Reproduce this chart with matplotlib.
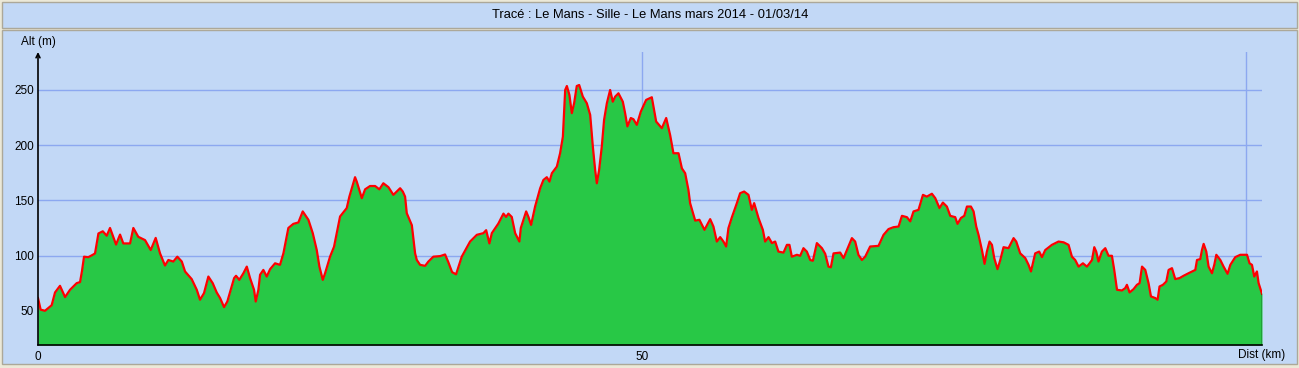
import matplotlib
matplotlib.use("Agg")
import matplotlib.pyplot as plt
from matplotlib.patches import Rectangle

title = "Tracé : Le Mans - Sille - Le Mans mars 2014 - 01/03/14"

# distance (km) / altitude (m)
dist = [0.0, 0.22, 0.58, 1.13, 1.41, 1.82, 2.24, 2.65, 3.20, 3.48, 3.64, 3.81, 4.16, 4.58, 4.72,
        5.0, 5.36, 5.69, 5.96, 6.46, 6.79, 7.06, 7.62, 7.89, 8.30, 8.86, 9.33, 9.74, 10.10, 10.51,
        10.79, 11.20, 11.53, 11.90, 12.17, 12.72, 13.14, 13.41, 13.74, 14.10, 14.46, 14.79, 15.07,
        15.40, 15.67, 15.89, 16.23, 16.39, 16.66, 17.00, 17.28, 17.55, 17.88, 18.02, 18.24, 18.38,
        18.65, 18.93, 19.21, 19.62, 20.03, 20.31, 20.72, 21.13, 21.55, 21.91, 22.38, 22.74, 23.07,
        23.29, 23.57, 23.76, 24.17, 24.50, 25.00, 25.55, 25.77, 26.24, 26.38, 26.80, 27.07, 27.48,
        27.90, 28.25, 28.58, 29.00, 29.41, 29.97, 30.19, 30.38, 30.52, 30.94, 31.21, 31.35, 31.62,
        32.04, 32.31, 32.72, 33.28, 33.69, 33.96, 34.27, 34.60, 35.07, 35.76, 36.32, 36.86, 37.09,
        37.36, 37.56, 38.10, 38.52, 38.74, 38.93, 39.21, 39.49, 39.84, 39.96, 40.40, 40.59, 40.81,
        41.14, 41.56, 41.83, 42.11, 42.33, 42.53, 42.94, 43.21, 43.44, 43.63, 43.77, 43.98, 44.18,
        44.37, 44.59, 44.79, 45.09, 45.42, 45.70, 45.92, 46.11, 46.25, 46.44, 46.66, 46.85, 47.08,
        47.35, 47.57, 47.77, 48.04, 48.40, 48.59, 48.78, 49.06, 49.28, 49.56, 49.89, 50.33, 50.80,
        51.16, 51.63, 51.99, 52.32, 52.59, 53.01, 53.29, 53.56, 53.83, 53.97, 54.25, 54.39, 54.74,
        55.16, 55.63, 55.90, 56.18, 56.46, 56.73, 56.95, 57.14, 57.43, 57.84, 58.11, 58.44, 58.80,
        59.08, 59.27, 59.63, 59.99, 60.18, 60.46, 60.74, 61.01, 61.28, 61.70, 61.98, 62.19, 62.39,
        62.81, 63.08, 63.35, 63.63, 63.91, 64.13, 64.46, 64.88, 65.15, 65.42, 65.62, 65.84, 66.39,
        66.67, 66.95, 67.36, 67.63, 67.90, 68.19, 68.46, 68.87, 69.56, 69.98, 70.39, 70.80, 71.22,
        71.50, 71.91, 72.19, 72.46, 72.87, 73.24, 73.56, 73.98, 74.26, 74.61, 74.89, 75.22, 75.50,
        75.91, 76.10, 76.38, 76.66, 76.88, 77.21, 77.43, 77.65, 77.84, 78.12, 78.34, 78.53, 78.75,
        78.95, 79.14, 79.41, 79.64, 79.91, 80.32, 80.74, 80.96, 81.29, 81.71, 81.98, 82.18, 82.53,
        82.86, 83.09, 83.36, 83.91, 84.46, 84.88, 85.29, 85.57, 85.84, 86.12, 86.48, 86.81, 87.03,
        87.23, 87.42, 87.58, 87.77, 88.05, 88.33, 88.60, 88.88, 89.07, 89.30, 89.71, 89.98, 90.12,
        90.34, 90.67, 90.95, 91.17, 91.37, 91.64, 91.91, 92.11, 92.47, 92.66, 92.82, 93.10, 93.38,
        93.57, 93.85, 94.12, 94.48, 94.81, 95.22, 95.78, 95.92, 96.19, 96.33, 96.47, 96.69, 96.88,
        97.16, 97.35, 97.52, 97.85, 98.12, 98.45, 98.68, 99.09, 99.50, 100.06, 100.27, 100.47,
        100.66, 100.88, 101.02, 101.30]
alt = [61.5, 51, 50, 55, 66.6, 72.6, 62.4, 69, 75, 76, 86, 99, 98.5, 101, 102,
       120, 122, 118, 125, 110, 119, 111, 111, 125, 117, 114, 105, 116, 102, 91,
       96, 94.6, 99, 94.6, 85.6, 78.7, 69, 60, 66, 81, 75, 66.6, 61.5,
       53.3, 58.4, 66.6, 79.6, 81.7, 78, 84, 90, 79.6, 69, 58.4, 69, 82.6,
       87, 81, 87.7, 93, 91.6, 102, 125, 128.7, 130, 140, 132.4, 120.3, 105,
       90, 78, 84, 99, 108, 135.4, 143, 153.4, 171, 167, 152, 160, 163,
       163, 160, 165.5, 162, 155, 161, 158, 153.4, 138.4, 127.5, 102, 96, 91.6,
       90.7, 94.6, 99, 99.5, 101, 94, 85, 83, 99, 112.7, 118.8, 120.3, 123,
       111, 120.3, 129, 138, 135, 138, 135, 120.3, 112.7, 125, 140, 135, 127.8,
       144.4, 161, 168.5, 171, 167, 174.6, 180.6, 192.7, 207.7, 250, 253.6, 245.5, 229,
       238, 253.6, 254.5, 244, 238, 227.4, 198.7, 177.6, 165.5, 177.6, 198.7, 222.9, 238,
       250, 239.4, 244, 247, 239.4, 229, 217, 224.6, 223.5, 218.4, 230.4, 241, 243.4,
       221.4, 215.4, 224.6, 209, 192.7, 192.7, 179, 174.6, 159.5, 147.5, 136.9, 131.7, 132.4,
       123.3, 133, 126.3, 112.7, 116.7, 112.7, 108.2, 124.8, 134.8, 147.5, 156.5, 158, 155,
       141.4, 147.5, 134, 123.3, 112.7, 116.7, 111.3, 112.7, 103.6, 102.7, 109.7, 109.7, 99,
       100.7, 99.8, 106.7, 103.6, 96, 95.3, 111.3, 106.7, 101.6, 90, 89.4, 102, 102.7,
       97.7, 105, 115.8, 112.7, 100.7, 96, 99, 108.2, 108.8, 118.8, 124, 125.7, 126.3,
       136, 134.8, 131, 140, 141.4, 155, 153.4, 156, 152, 143, 148, 144.4, 136,
       134.8, 128.7, 134, 136, 144.4, 144.4, 140, 126.3, 118.8, 105, 92.5, 103.6, 112.7,
       109.7, 97.7, 87.7, 96, 107.6, 106.7, 115.8, 112.7, 102, 97.7, 91.6, 85.6, 102,
       103.6, 98.6, 105, 109.7, 112.7, 112, 109.7, 99, 96, 90, 93, 90, 93,
       96, 107.6, 103.6, 94.6, 103.6, 106.7, 99.8, 99.8, 87, 69, 68.4, 70.5, 73.5,
       66.6, 69.6, 73.5, 75, 90, 87, 75, 63, 61.5, 60, 72, 73.5, 76.5,
       87, 88.6, 78.7, 79.6, 81.7, 84, 87, 96, 96.8, 105, 110.6, 103.6, 90,
       84, 91.6, 100.7, 96, 90, 83.5, 91.6, 98.6, 100.7, 100.7, 93, 91.6,
       81, 85.6, 75, 65.4]

alt_ticks = [50, 100, 150, 200, 250]
dist_ticks = [0, 50]
dist_grid = [50, 100]
y_min, y_max = 19, 284.4

W, H = 1299, 368
blue = "#C2D8F6"
beige = "#ECE9D8"
edge = "#ACA899"
grid_c = "#8CA8F0"

plt.rcParams["font.family"] = ["Liberation Sans", "DejaVu Sans"]
fig = plt.figure(figsize=(W / 100, H / 100), dpi=100, facecolor=beige)


def box(x0, y0, x1, y1, **kw):
    # rectangle in pixel coordinates (origin top-left)
    fig.add_artist(Rectangle((x0 / W, 1 - y1 / H), (x1 - x0) / W, (y1 - y0) / H,
                             transform=fig.transFigure, zorder=-5, **kw))


box(2, 2, 1297, 28, facecolor=blue, edgecolor=edge, lw=1)
box(2, 30, 1297, 364, facecolor=blue, edgecolor=edge, lw=1)
fig.text(650 / W, 1 - 15 / H, title, ha="center", va="center", fontsize=9.3)

ax = fig.add_axes([38 / W, 1 - 345 / H, (1262 - 38) / W, (345 - 52) / H])
ax.set_facecolor("none")
ax.set_xlim(0, dist[-1])
ax.set_ylim(y_min, y_max)

for v in alt_ticks:
    ax.axhline(v, color=grid_c, lw=1, zorder=1)
for v in dist_grid:
    ax.axvline(v, color=grid_c, lw=1, zorder=1)

ax.fill_between(dist, alt, y_min, color="#28C846", lw=0, zorder=2)
ax.plot(dist, alt, color="#FF0000", lw=1.6, zorder=3)
ax.plot([dist[-1], dist[-1]], [y_min, alt[-1]], color="black", lw=1, zorder=3)

for s in ["top", "right", "left"]:
    ax.spines[s].set_visible(False)
ax.spines["bottom"].set_linewidth(1.2)
ax.annotate("", xy=(0, 1.0), xytext=(0, 0), xycoords="axes fraction",
            arrowprops=dict(arrowstyle="->", lw=1.2, color="black",
                            mutation_scale=7, shrinkA=0, shrinkB=0),
            annotation_clip=False, zorder=5)

ax.set_yticks(alt_ticks)
ax.set_yticklabels([str(v) for v in alt_ticks], fontsize=8.5)
ax.set_xticks(dist_ticks)
ax.set_xticklabels([str(v) for v in dist_ticks], fontsize=8.5)
ax.tick_params(length=0, pad=3)
ax.tick_params(axis="x", pad=4)

ax.text(0, 1.0 + 10 / 293, "Alt (m)", transform=ax.transAxes, ha="center",
        va="center", fontsize=8.5)
ax.text(1.0, -10 / 293, "Dist (km)", transform=ax.transAxes, ha="center",
        va="center", fontsize=8.5)

fig.savefig("out.png", dpi=100, facecolor=beige)
